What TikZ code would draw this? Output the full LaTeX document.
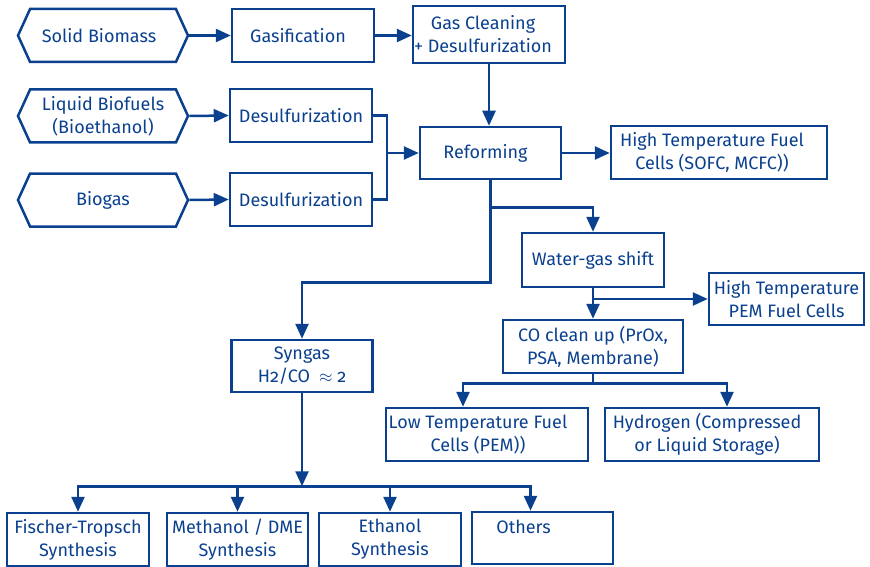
\documentclass[tikz,border=0pt]{standalone}
\usepackage{fontspec}
\setmainfont{Fira Sans}[Numbers=OldStyle]
\usepackage{xcolor}
\usepackage{tikz}
\usetikzlibrary{arrows.meta,positioning,calc,shapes.symbols}
\definecolor{routeblue}{RGB}{10,64,142}
\tikzset{
	box/.style={draw=routeblue, line width=2.5pt, align=center, inner sep=0pt},
	arrow/.style={-{Triangle[length=15pt,width=13pt]}, draw=routeblue, line width=2.5pt},
	wire/.style={draw=routeblue, line width=2.5pt},
}

\begin{document}
\begin{tikzpicture}[
	x=1pt, y=-1pt,
	every node/.style={text=routeblue, font=\fontsize{18pt}{23pt}\selectfont},
	feedstock/.style={box, shape=signal, signal to=east and west,
		signal pointer angle=131, minimum width=170pt, minimum height=53pt},
	stepbox/.style={box, minimum width=142pt, minimum height=53pt},
	]
	\useasboundingbox (0,0) rectangle (870,567);
	
	%% ── Feedstocks ──────────────────────────────────────────────────
	\node[feedstock] (solid) at (103,35.5) {Solid Biomass\hspace*{8pt}};
	\node[feedstock] (liquid) at (103,116) {Liquid Biofuels\\(Bioethanol)};
	\node[feedstock] (biogas) at (103,200) {Biogas};
	
	%% ── Pretreatment ────────────────────────────────────────────────
	\node[stepbox] (gasif) at (303,35.5) {Gasification\hspace*{10pt}};
	\node[stepbox] (desulfA) at (301,115.5) {Desulfurization};
	\node[stepbox] (desulfB) at (301,199.5) {Desulfurization};
	\node[stepbox, minimum width=152pt, minimum height=57pt] (gascl) at (489,34.5)
	{Gas Cleaning\hspace*{12pt}\\+ Desulfurization\hspace*{12pt}};
	
	%% ── Reforming and fuel cells ────────────────────────────────────
	\node[stepbox, minimum width=141pt, minimum height=52pt] (reform) at (490.5,153)
	{Reforming\hspace*{10pt}};
	\node[stepbox, minimum width=216pt] (htfc) at (719,152.5)
	{High Temperature Fuel\hspace*{14pt}\\Cells (SOFC, MCFC))\hspace*{14pt}};
	\node[stepbox, minimum height=54pt] (wgs) at (593,260) {Water-gas shift};
	\node[stepbox, minimum width=155pt, minimum height=52pt] (htpem) at (786.5,299)
	{High Temperature\\PEM Fuel Cells};
	\node[stepbox, minimum width=180pt] (coclean) at (593,346.5)
	{CO clean up (PrOx,\\PSA, Membrane)};
	\node[stepbox, minimum width=202pt] (ltfc) at (487,434.5)
	{Low Temperature Fuel\hspace*{18pt}\\Cells (PEM))\hspace*{18pt}};
	\node[stepbox, minimum width=214pt] (hydro) at (712,434.5)
	{Hydrogen (Compressed\hspace*{10pt}\\or Liquid Storage)\hspace*{10pt}};
	
	%% ── Syngas route ────────────────────────────────────────────────
	\node[stepbox, minimum width=141pt, minimum height=52pt] (syngas) at (302,366)
	{Syngas\\H2/CO\enspace$\approx$ 2};
	\node[stepbox] (ft) at (78,539.5) {Fischer-Tropsch\\Synthesis};
	\node[stepbox, minimum width=141pt] (meoh) at (237.5,539.5) {Methanol / DME\\Synthesis};
	\node[stepbox] (etoh) at (390,539.5) {Ethanol\\Synthesis};
	\node[stepbox, minimum width=141pt, minimum height=52pt] (others) at (542.5,538)
	{Others\hspace*{38pt}\\\mbox{}};
	
	%% ── Helper points ───────────────────────────────────────────────
	\coordinate (merge) at (387,153);
	\coordinate (tap) at ($(reform.south)+(0,27)$);
	
	%% ── Upper flow ──────────────────────────────────────────────────
	\draw[arrow] (solid.east) -- (gasif.west);
	\draw[arrow] (liquid.east) -- (desulfA.west);
	\draw[arrow] (biogas.east) -- (desulfB.west);
	\draw[arrow] (gasif.east) -- (gasif.east -| gascl.west);
	\draw[arrow] (gascl.south) -- (gascl.south |- reform.north);
	\draw[wire] (desulfA.east) -| (merge) |- (desulfB.east);
	\draw[arrow] (merge) -- (reform.west);
	\draw[arrow] (reform.east) -- (reform.east -| htfc.west);
	
	%% ── Shift and clean-up branch ───────────────────────────────────
	\draw[arrow] (tap) -| (wgs.north);
	\draw[arrow] (wgs.south) -- (coclean.north);
	\draw[arrow] (wgs.south |- htpem.west) -- (htpem.west);
	\draw[wire] (coclean.south) -- ++(0,9) coordinate (cosplit);
	\draw[arrow] (cosplit) -| ($(ltfc.north)+(-24,0)$);
	\draw[arrow] (cosplit) -| ($(hydro.north)+(15,0)$);
	
	%% ── Syngas branch ───────────────────────────────────────────────
	\draw[arrow] (reform.south) -- ++(0,102) -| (syngas.north);
	\draw[arrow] (syngas.south) -- ++(0,93) coordinate (bus);
	\draw[arrow] (bus) -| (ft.north);
	\draw[arrow] (bus) -| (meoh.north);
	\draw[arrow] (bus) -| (etoh.north);
	\draw[arrow] (bus) -| ($(others.north)+(-12,0)$);
\end{tikzpicture}
\end{document}
